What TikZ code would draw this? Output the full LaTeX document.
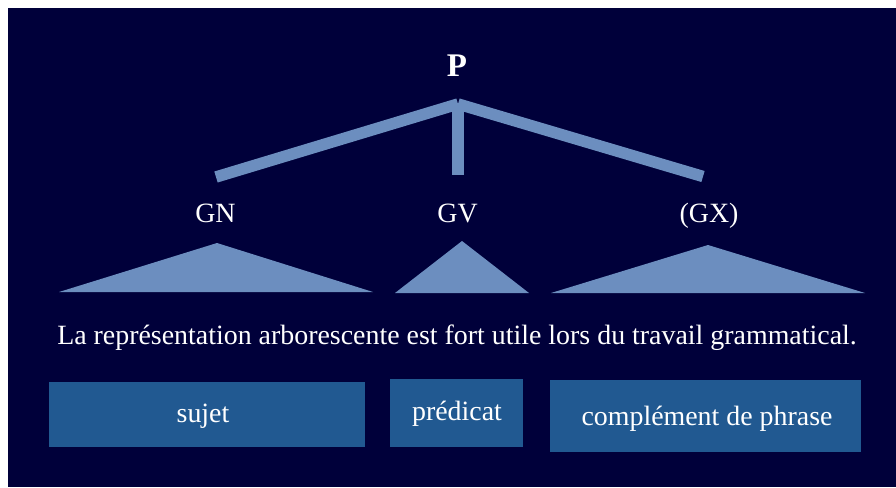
\documentclass[tikz,border=0pt]{standalone}
\usepackage{fontspec}
\setmainfont{Liberation Serif}
\definecolor{navy}{RGB}{0,0,58}
\definecolor{barc}{RGB}{108,142,191}
\definecolor{boxc}{RGB}{33,89,145}
\begin{document}
\begin{tikzpicture}[x=1pt,y=-1pt,
  lbl/.style={text=white, inner sep=0pt, font=\fontsize{27.9}{32}\selectfont},
  barline/.style={draw=barc, line width=11.5pt, line cap=butt},
  tri/.style={fill=barc},
  boxnode/.style={fill=boxc, draw=none, inner sep=0pt}]
\useasboundingbox (0,0) rectangle (896,487);
\fill[white] (0,0) rectangle (896,487);
\fill[navy] (8,8) rectangle (896,487);
% tree
\node[lbl, font=\fontsize{33}{38}\selectfont\bfseries, anchor=base] (P) at (457,77) {P};
\coordinate (apex) at (458,104);
\coordinate (lend) at (216,177);
\coordinate (mend) at (458,175);
\coordinate (rend) at (703,176.5);
\draw[barline] (apex) -- (lend);
\draw[barline] (apex) -- (rend);
\draw[barline] (apex) -- (mend);
\node[lbl, anchor=base] (GN) at (215.5,222) {GN};
\node[lbl, anchor=base] (GV) at (457.5,222) {GV};
\node[lbl, anchor=base] (GX) at (709,222) {(GX)};
% triangles
\fill[tri] (59,292) -- (217,243) -- (373,292) -- cycle;
\fill[tri] (395,293) -- (462,241) -- (529,293) -- cycle;
\fill[tri] (551,293) -- (708,245) -- (865,293) -- cycle;
% sentence
\node[lbl, anchor=base] (S) at (457,344) {La représentation arborescente est fort utile lors du travail grammatical.};
% boxes
\node[boxnode, minimum width=316pt, minimum height=65pt] (B1) at (207,414.5) {};
\node[boxnode, minimum width=133pt, minimum height=68pt] (B2) at (456.5,413) {};
\node[boxnode, minimum width=311pt, minimum height=72pt] (B3) at (705.5,416) {};
\node[lbl, anchor=base] (T1) at (203,422) {sujet};
\node[lbl, anchor=base] (T2) at (457,420) {prédicat};
\node[lbl, anchor=base] (T3) at (707,425) {complément de phrase};
\end{tikzpicture}
\end{document}
